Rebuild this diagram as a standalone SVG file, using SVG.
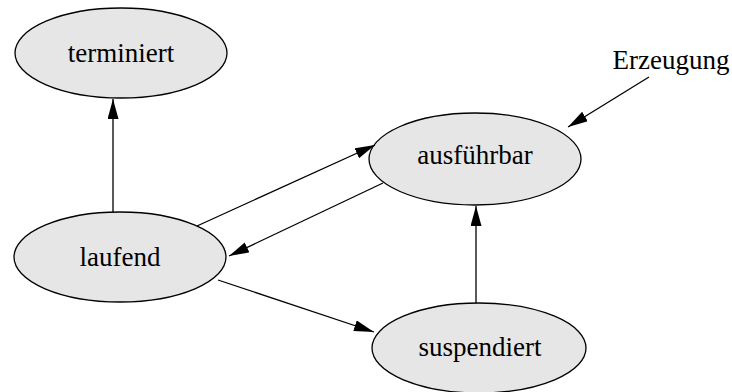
<svg xmlns="http://www.w3.org/2000/svg" width="732" height="392" viewBox="0 0 732 392">
<style>
.node ellipse{fill:#e6e6e6;stroke:#000;stroke-width:1.3}
text{font-family:"Liberation Serif","Times New Roman",serif;font-size:27px;fill:#000;text-anchor:middle}
.edges line{stroke:#000;stroke-width:1.3}
</style>
<defs>
<marker id="ah" markerUnits="userSpaceOnUse" markerWidth="22" markerHeight="12" refX="20" refY="5.5" orient="auto">
<path d="M0,0 L20,5.5 L0,11 Z" fill="#000"/>
</marker>
</defs>
<rect width="732" height="392" fill="#fff"/>
<g id="terminiert" class="node"><ellipse cx="121" cy="53" rx="106" ry="45"/><text x="121" y="62">terminiert</text></g>
<g id="ausfuehrbar" class="node"><ellipse cx="475" cy="159" rx="106" ry="46"/><text x="475" y="164">ausführbar</text></g>
<g id="laufend" class="node"><ellipse cx="120" cy="257" rx="106" ry="45"/><text x="120" y="266">laufend</text></g>
<g id="suspendiert" class="node"><ellipse cx="479" cy="348" rx="107" ry="45"/><text x="480" y="356">suspendiert</text></g>
<g id="erzeugung"><text x="671" y="69">Erzeugung</text></g>
<g class="edges" id="connectors">
<line x1="113" y1="212" x2="113" y2="99" marker-end="url(#ah)"/>
<line x1="197" y1="226" x2="375" y2="145" marker-end="url(#ah)"/>
<line x1="383" y1="183" x2="229" y2="256" marker-end="url(#ah)"/>
<line x1="218" y1="280" x2="374" y2="332" marker-end="url(#ah)"/>
<line x1="476" y1="303" x2="476" y2="206" marker-end="url(#ah)"/>
<line x1="649" y1="77" x2="568" y2="127" marker-end="url(#ah)"/>
</g>
</svg>
